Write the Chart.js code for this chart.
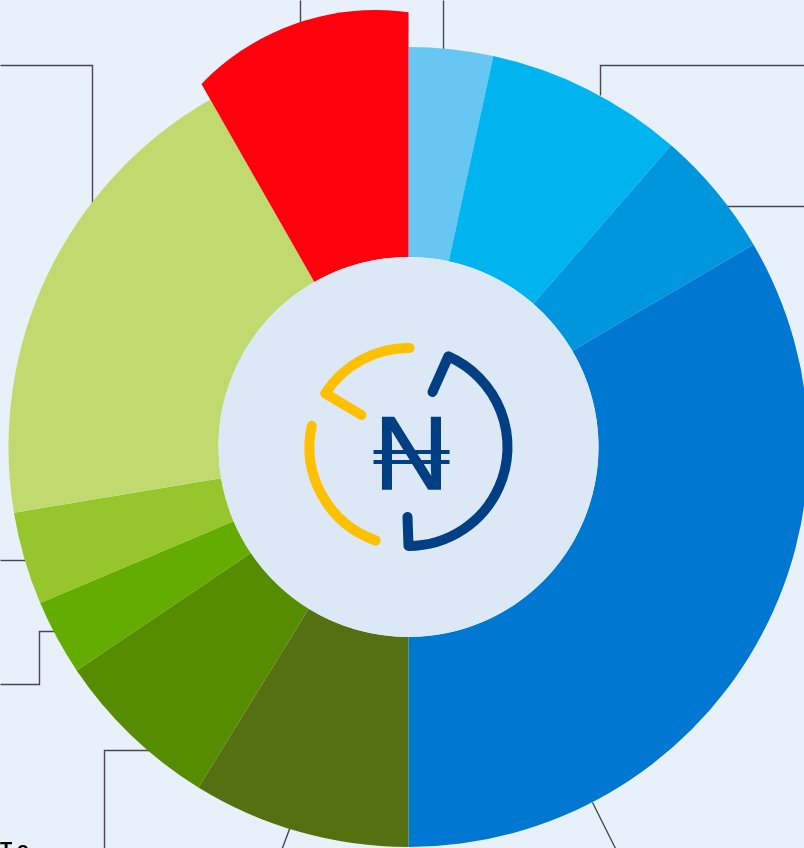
<!DOCTYPE html>
<html>
<head>
<meta charset="utf-8">
<style>
  html, body { margin: 0; padding: 0; background: #e8f0fa; overflow: hidden; width: 804px; height: 848px; }
  #wrap { position: absolute; left: 0; top: 0; width: 817px; height: 894px; }
  #bottomText { position: absolute; left: 0; top: 838px; font: bold 20px "Liberation Sans", sans-serif; letter-spacing: 6px; color: #000; }
</style>
</head>
<body>
<div id="wrap"><canvas id="chart" width="817" height="894"></canvas></div>
<div id="bottomText">To</div>
<script src="https://cdn.jsdelivr.net/npm/chart.js@4"></script>
<script>
// shares, clockwise from 12 o'clock
var categories = ["a", "b", "c", "d", "e", "f", "g", "h", "i", "j"]
var shares = [3.4, 8.0, 5.15, 33.45, 8.8, 6.77, 3.05, 3.75, 19.38, 8.25]
var sliceColors = ["#68c7f2", "#00b5ef", "#0096dd", "#0078d2", "#557011", "#568c00", "#64ac00", "#97c52c", "#c0da70", "#ff000c"]
var liftedSlice = 9

// leader lines that run off the page
var leaders = [
  [[300, 0], [300, 30]],
  [[443, 0], [443, 50]],
  [[0, 65], [92, 65], [92, 210]],
  [[804, 65], [600, 65], [600, 95]],
  [[804, 206], [725, 206]],
  [[616, 850], [592, 802]],
  [[0, 560], [30, 560]],
  [[0, 684], [39, 684], [39, 631], [56, 631]],
  [[104, 850], [104, 750], [150, 750]],
  [[281, 850], [290, 826]]
]

var leaderLines = {
  id: "leaderLines",
  beforeDatasetsDraw: function(chart) {
    var ctx = chart.ctx
    ctx.save()
    ctx.strokeStyle = "#45484f"
    ctx.lineWidth = 1.4
    leaders.forEach(function(line) {
      ctx.beginPath()
      line.forEach(function(p, i) {
        if (i == 0) ctx.moveTo(p[0] + 0.5, p[1] + 0.5)
        else ctx.lineTo(p[0] + 0.5, p[1] + 0.5)
      })
      ctx.stroke()
    })
    ctx.restore()
  }
}

// the red slice sticks out further and its outer edge is rounded off
var liftSlice = {
  id: "liftSlice",
  afterDatasetsUpdate: function(chart) {
    var arc = chart.getDatasetMeta(0).data[liftedSlice]
    var draw = arc.draw
    arc.outerRadius = 445
    arc.draw = function(ctx, area) {
      ctx.save()
      ctx.beginPath()
      ctx.arc(arc.x - 33, arc.y - 195, 242, 0, Math.PI * 2)
      ctx.clip()
      draw.call(arc, ctx, area)
      ctx.restore()
    }
  }
}

var centerIcon = {
  id: "centerIcon",
  afterDatasetsDraw: function(chart) {
    var ctx = chart.ctx
    var arc = chart.getDatasetMeta(0).data[0]
    var cx = arc.x, cy = arc.y
    ctx.save()
    ctx.beginPath()
    ctx.arc(cx, cy, arc.innerRadius, 0, Math.PI * 2)
    ctx.fillStyle = "#dce8f5"
    ctx.fill()

    ctx.lineWidth = 10
    ctx.lineCap = "round"
    ctx.lineJoin = "round"

    ctx.strokeStyle = "#ffc000"
    ctx.beginPath()
    ctx.arc(cx, cy, 99, Math.atan2(-98, 1), Math.atan2(-54, -84), true)
    ctx.lineTo(cx - 47, cy - 32)
    ctx.stroke()
    ctx.beginPath()
    ctx.arc(cx, cy, 99, Math.atan2(-21, -96), Math.atan2(94, -33), true)
    ctx.stroke()

    ctx.strokeStyle = "#003f84"
    ctx.beginPath()
    ctx.moveTo(cx + 24, cy - 55)
    ctx.arc(cx, cy, 99, Math.atan2(-91, 40), Math.PI / 2)
    ctx.lineTo(cx - 1, cy + 70)
    ctx.stroke()

    // naira sign: the letter with its two bars
    ctx.fillStyle = "#003f84"
    ctx.font = "103px 'Liberation Sans'"
    ctx.textAlign = "center"
    ctx.textBaseline = "alphabetic"
    ctx.fillText("N", cx + 3, cy + 42)
    ctx.lineJoin = "miter"
    ctx.lineWidth = 1.5
    ctx.strokeText("N", cx + 3, cy + 42)
    ctx.lineCap = "butt"
    ctx.lineWidth = 4
    ctx.beginPath()
    ctx.moveTo(cx - 35, cy + 5)
    ctx.lineTo(cx + 41, cy + 5)
    ctx.moveTo(cx - 35, cy + 15)
    ctx.lineTo(cx + 41, cy + 15)
    ctx.stroke()
    ctx.restore()
  }
}

new Chart(document.getElementById("chart"), {
  type: "doughnut",
  data: {
    labels: categories,
    datasets: [{ data: shares, backgroundColor: sliceColors, borderWidth: 0 }]
  },
  options: {
    responsive: false,
    animation: false,
    radius: 400,
    cutout: "47.5%",
    layout: { padding: 0 },
    plugins: { legend: { display: false }, tooltip: { enabled: false } }
  },
  plugins: [leaderLines, liftSlice, centerIcon]
})
</script>
</body>
</html>
